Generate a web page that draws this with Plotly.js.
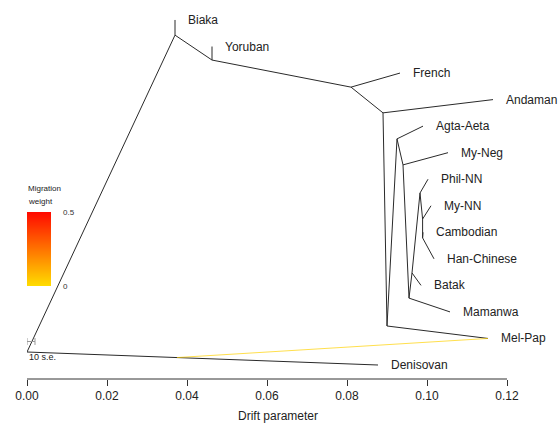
<!DOCTYPE html>
<html>
<head>
<meta charset="utf-8">
<script src="https://cdn.plot.ly/plotly-3.0.1.min.js"></script>
<style>html,body{margin:0;padding:0;background:#fff;}#chart{width:560px;height:430px;}</style>
</head>
<body>
<div id="chart"></div>
<script>
// Tree nodes (drift parameter, vertical position, parent)
const nodeNames  = ["root","n1","Biaka","n2","Yoruban","n3","French","n4","Andaman","n5","Mel-Pap","n6","Agta-Aeta","n7","My-Neg","n8","Mamanwa","n9","Batak","n10","Phil-NN","n11","My-NN","n12","Cambodian","Han-Chinese","m1","Denisovan"];
const nodeDrift  = [0, 0.0370, 0.0370, 0.04625, 0.04625, 0.0810, 0.09325, 0.0890, 0.1165, 0.0900, 0.11525, 0.0925, 0.0990, 0.0940, 0.10525, 0.0955, 0.10575, 0.09625, 0.0985, 0.09825, 0.10025, 0.0989, 0.1010, 0.0989, 0.0990, 0.10175, 0.0375, 0.08775];
const nodePos    = [0.49, 12.43, 13, 11.49, 12, 10.47, 11, 9.5, 10, 1.47, 1, 8.52, 9, 7.54, 8, 2.52, 2, 3.47, 3, 6.48, 7, 5.5, 6, 4.79, 5, 4, 0.28, 0];
const nodeParent = [null,"root","n1","n1","n2","n2","n3","n3","n4","n4","n5","n5","n6","n6","n7","n7","n8","n8","n9","n9","n10","n10","n11","n11","n12","n12","root","m1"];
const leafNames  = ["Biaka","Yoruban","French","Andaman","Agta-Aeta","My-Neg","Phil-NN","My-NN","Cambodian","Han-Chinese","Batak","Mamanwa","Mel-Pap","Denisovan"];

// Migration edge
const migFrom = ["m1"];
const migTo = ["Mel-Pap"];
const migWeight = [0.03];

// Migration weight scale
const weightScale = [0, 0.5];
const weightTicks = ["0", "0.5"];

// Scale bar (10 s.e.)
const seBarDrift = [0, 0.002];
const seBarPos = 0.885;

// Axis ticks
const tickVals = [0, 0.02, 0.04, 0.06, 0.08, 0.10, 0.12];
const tickText = ["0.00","0.02","0.04","0.06","0.08","0.10","0.12"];

const idx = {};
nodeNames.forEach((n,i)=>idx[n]=i);

function weightColor(w){
  const t = Math.max(0, Math.min(1, (w - weightScale[0])/(weightScale[1]-weightScale[0])));
  const g = Math.round(222 - 212*t);
  return `rgb(255,${g},0)`;
}

// plot-area helpers (plot area spans 27..529 px horizontally, 0..379 px vertically)
const PL = 27, PW = 502, PH = 379;
const px = v => (v - PL)/PW;
const py = v => (PH - v)/PH;

// Edges
const ex = [], ey = [];
nodeNames.forEach((n,i)=>{
  const p = nodeParent[i];
  if(p===null) return;
  const j = idx[p];
  ex.push(nodeDrift[j], nodeDrift[i], null);
  ey.push(nodePos[j], nodePos[i], null);
});

const FONT = "Liberation Sans, Arial, sans-serif";
const traces = [
  {type:"scatter", mode:"lines", x:ex, y:ey, line:{color:"#2a2a2a", width:1}, hoverinfo:"skip", showlegend:false, xaxis:"x", yaxis:"y"}
];
migFrom.forEach((f,k)=>{
  const a = idx[f], b = idx[migTo[k]];
  traces.push({type:"scatter", mode:"lines", x:[nodeDrift[a], nodeDrift[b]], y:[nodePos[a], nodePos[b]],
    line:{color:weightColor(migWeight[k]), width:1}, opacity:0.7, hoverinfo:"skip", showlegend:false, xaxis:"x", yaxis:"y"});
});
// weight gradient
traces.push({type:"heatmap", x:[0], y:weightScale, z:[[weightScale[0]],[weightScale[1]]], zsmooth:"best",
  colorscale:[[0, weightColor(weightScale[0])],[1, weightColor(weightScale[1])]], zmin:weightScale[0], zmax:weightScale[1],
  showscale:false, hoverinfo:"skip", xaxis:"x2", yaxis:"y2"});

const annotations = leafNames.map(n=>({
  x:nodeDrift[idx[n]], y:nodePos[idx[n]], xref:"x", yref:"y", text:n, showarrow:false,
  xanchor:"left", yanchor:"middle", xshift:11, font:{family:FONT, size:12, color:"#222"}
}));
weightScale.forEach((w,k)=>{
  annotations.push({x:px(61), y:w, xref:"paper", yref:"y2", text:weightTicks[k], showarrow:false,
    xanchor:"left", yanchor:"middle", font:{family:FONT, size:8, color:"#333"}});
});
annotations.push({x:px(26), y:py(188), xref:"paper", yref:"paper", text:"Migration", showarrow:false, xanchor:"left", yanchor:"middle", font:{family:FONT, size:8, color:"#222"}});
annotations.push({x:px(26), y:py(201), xref:"paper", yref:"paper", text:"weight", showarrow:false, xanchor:"left", yanchor:"middle", font:{family:FONT, size:8, color:"#222"}});
annotations.push({x:0, y:0.30, xref:"x", yref:"y", text:"10 s.e.", showarrow:false, xanchor:"left", yanchor:"middle", font:{family:FONT, size:9, color:"#222"}});

const shapes = [
  {type:"line", xref:"x", yref:"paper", x0:tickVals[0], x1:tickVals[tickVals.length-1], y0:0, y1:0, line:{color:"#333", width:1}},
  {type:"line", xref:"x", yref:"y", x0:seBarDrift[0], x1:seBarDrift[1], y0:seBarPos, y1:seBarPos, line:{color:"#999", width:1}},
  {type:"line", xref:"x", yref:"y", x0:seBarDrift[0], x1:seBarDrift[0], y0:seBarPos-0.13, y1:seBarPos+0.13, line:{color:"#999", width:1}},
  {type:"line", xref:"x", yref:"y", x0:seBarDrift[1], x1:seBarDrift[1], y0:seBarPos-0.13, y1:seBarPos+0.13, line:{color:"#999", width:1}}
];

const layout = {
  width:560, height:430,
  margin:{l:27, r:31, t:0, b:51},
  paper_bgcolor:"#fff", plot_bgcolor:"rgba(0,0,0,0)",
  showlegend:false,
  font:{family:FONT, size:12, color:"#222"},
  xaxis:{range:[0,0.1255], showgrid:false, zeroline:false, showline:false,
    tickmode:"array", tickvals:tickVals, ticktext:tickText, ticks:"outside", ticklen:6, tickwidth:1, tickcolor:"#333",
    tickfont:{family:FONT, size:12, color:"#222"},
    title:{text:"Drift parameter", font:{family:FONT, size:12, color:"#222"}, standoff:9}},
  yaxis:{range:[-0.5275, 13.753], visible:false, showgrid:false, zeroline:false},
  xaxis2:{domain:[px(27), px(51)], anchor:"y2", visible:false, range:[-0.5,0.5]},
  yaxis2:{domain:[py(286), py(212)], anchor:"x2", visible:false, range:weightScale},
  annotations:annotations,
  shapes:shapes
};

Plotly.newPlot("chart", traces, layout, {displayModeBar:false, staticPlot:true});
</script>
</body>
</html>
